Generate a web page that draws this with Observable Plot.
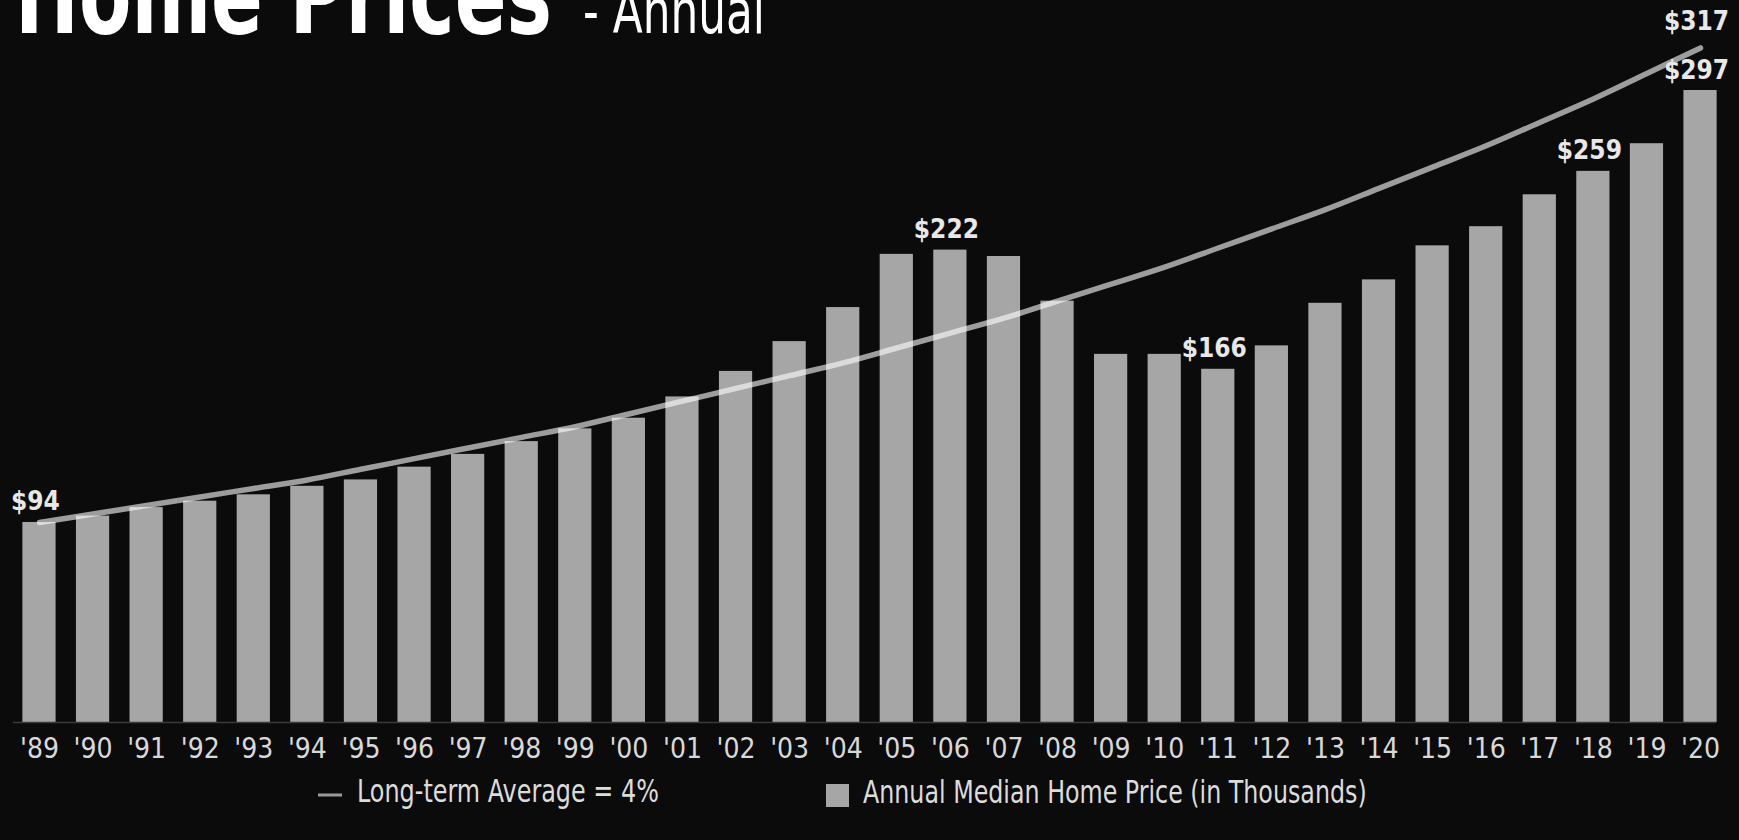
<!DOCTYPE html>
<html>
<head>
<meta charset="utf-8">
<script src="https://cdn.jsdelivr.net/npm/d3@7"></script>
<script src="https://cdn.jsdelivr.net/npm/@observablehq/plot@0.6"></script>
<style>
  html, body { margin: 0; padding: 0; background: #0b0b0b; }
  #page { position: relative; width: 1739px; height: 840px; overflow: hidden; background: #0b0b0b; }
  #page > svg, #page > div { position: absolute; left: 0; }
  .narrow { font-family: 'Liberation Sans Narrow', 'DejaVu Sans Condensed', 'Arial Narrow', sans-serif; }
</style>
</head>
<body>
<div id="page">
  <svg id="title" width="1739" height="60" style="top:0" class="narrow">
    <text class="fit" data-x="15" data-y="33" data-w="537" font-size="110" font-weight="bold" fill="#ffffff">Home Prices</text>
    <text class="fit" data-x="583" data-y="33" data-w="182" font-size="62" fill="#ffffff">- Annual</text>
  </svg>
  <div id="chart" style="top:0"></div>
  <svg id="legend" width="1739" height="60" style="top:750px" class="narrow">
    <line x1="318" x2="342" y1="45" y2="45" stroke="#9a9a9a" stroke-width="3"></line>
    <text id="lg1" class="fit" data-x="357" data-y="52" data-w="302" font-size="32" fill="#dcdcdc"></text>
    <rect x="826" y="34" width="23" height="23" fill="#a6a6a6"></rect>
    <text id="lg2" class="fit" data-x="863" data-y="53" data-w="504" font-size="32" fill="#dcdcdc"></text>
  </svg>
</div>
<script>
// ---- data ----
const years = ["'89","'90","'91","'92","'93","'94","'95","'96","'97","'98","'99","'00","'01","'02","'03","'04",
               "'05","'06","'07","'08","'09","'10","'11","'12","'13","'14","'15","'16","'17","'18","'19","'20"];
const prices = [94, 97, 101, 104, 107, 111, 114, 120, 126, 132, 138, 143, 153, 165, 179, 195,
                220, 222, 219, 198, 173, 173, 166, 177, 197, 208, 224, 233, 248, 259, 272, 297];
const trend = [94, 98, 102, 106, 110, 114, 119, 124, 129, 134, 139, 145, 151, 157, 163, 169,
               176, 183, 190, 198, 206, 214, 223, 232, 241, 251, 261, 271, 282, 293, 305, 317];
const labeledYears = ["'89", "'06", "'11", "'18", "'20"];
const trendLabelYear = "'20";
const seriesNames = ["Long-term Average = 4%", "Annual Median Home Price (in Thousands)"];

document.getElementById("lg1").textContent = seriesNames[0];
document.getElementById("lg2").textContent = seriesNames[1];

// horizontally fit header/legend texts to the widths seen in the reference
document.querySelectorAll("text.fit").forEach(t => {
  const x = +t.dataset.x, y = +t.dataset.y, w = +t.dataset.w;
  const len = t.getComputedTextLength() || w;
  t.setAttribute("transform", `translate(${x},${y}) scale(${w / len},1)`);
});

const bars = years.map((y, i) => ({year: y, price: prices[i], trend: trend[i]}));
const labeled = bars.filter(d => labeledYears.includes(d.year));
const trendEnd = bars.filter(d => d.year === trendLabelYear);

const narrow = "'Liberation Sans Narrow', 'DejaVu Sans Condensed', 'Arial Narrow', sans-serif";

const chart = Plot.plot({
  width: 1739,
  height: 770,
  marginTop: 0,
  marginBottom: 48,
  marginLeft: 2,
  marginRight: 2,
  style: {background: "transparent", fontFamily: narrow, overflow: "visible"},
  x: {type: "band", domain: years, padding: 0.38, round: false, label: null},
  y: {domain: [0, 339.3], axis: null},
  marks: [
    Plot.barY(bars, {x: "year", y: "price", fill: "#a6a6a6"}),
    Plot.ruleY([0], {stroke: "#3a3a3a", strokeWidth: 1.5, insetLeft: 11, insetRight: 21}),
    Plot.line(bars, {x: "year", y: "trend", stroke: "white", strokeOpacity: 0.6, strokeWidth: 5.5, curve: "catmull-rom"}),
    Plot.text(labeled, {x: "year", y: "price", text: d => "$" + d.price, dy: -12, dx: -4, lineAnchor: "bottom",
      fontSize: 26, fontWeight: "bold", fill: "#e8e8e8"}),
    Plot.text(trendEnd, {x: "year", y: "trend", text: d => "$" + d.trend, dy: -18, dx: -4, lineAnchor: "bottom",
      fontSize: 26, fontWeight: "bold", fill: "#e8e8e8"}),
    Plot.axisX({tickSize: 0, tickPadding: 16, fontSize: 28, fill: "#d9d9d9", label: null})
  ]
});
document.getElementById("chart").appendChild(chart);
</script>
</body>
</html>
